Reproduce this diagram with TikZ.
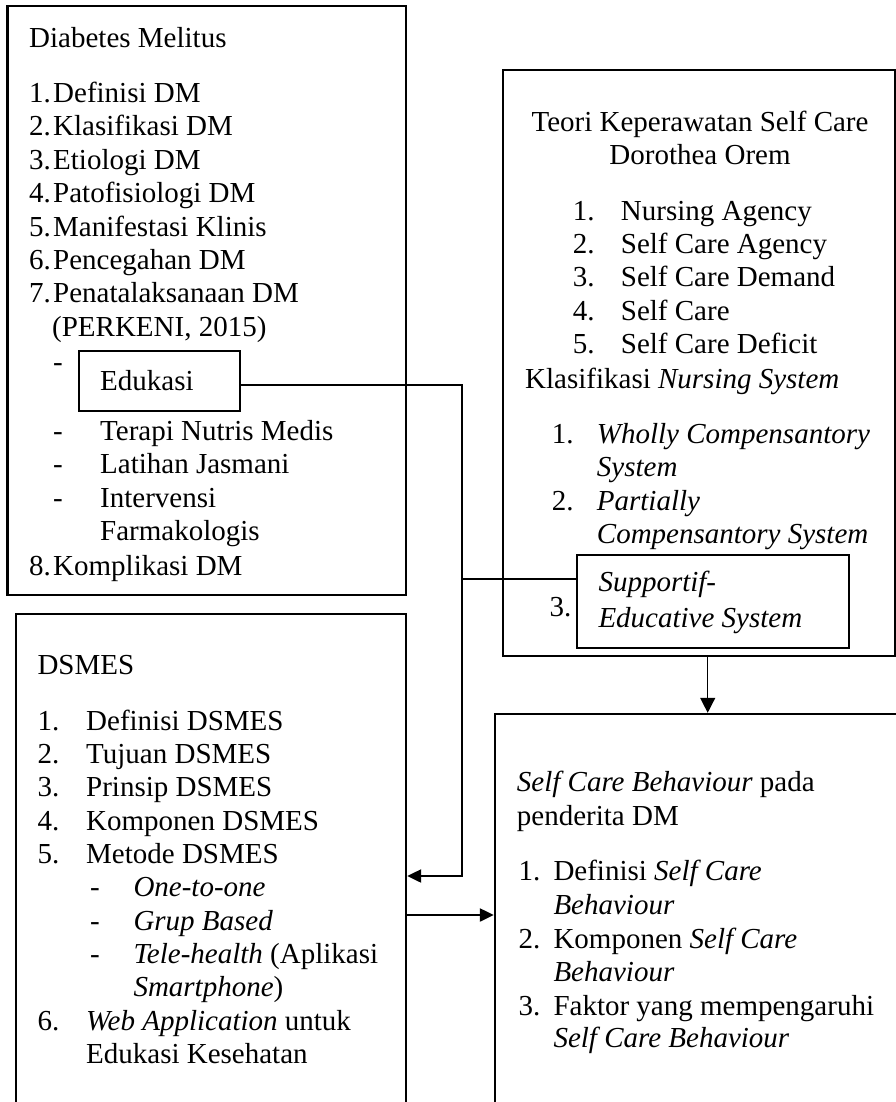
\documentclass[tikz,border=0pt]{standalone}
\usepackage{fontspec}
\setmainfont{Liberation Serif}
\usetikzlibrary{arrows.meta,calc}
\begin{document}
\begin{tikzpicture}[x=1pt,y=-1pt,
  txt/.style={anchor=base west,inner sep=0pt,font=\fontsize{29}{33}\selectfont},
  ctxt/.style={anchor=base,inner sep=0pt,font=\fontsize{29}{33}\selectfont},
  boxst/.style={draw,line width=2.4pt,inner sep=0pt,rectangle},
  conn/.style={line width=2.3pt},
  arr/.style={line width=2.3pt,-{Triangle[length=14pt,width=13pt]}},
  thinarr/.style={line width=1.4pt,-{Triangle[length=15pt,width=15pt]}}]
\useasboundingbox (0,0) rectangle (896,1102);
\clip (0,0) rectangle (896,1102);
\fill[white] (0,0) rectangle (896,1102);

% boxes
\node[boxst,minimum width=398.5pt,minimum height=589pt] (dm) at (206.75,300.5) {};
\node[boxst,minimum width=161pt,minimum height=60pt] (edu) at (159.5,381) {};
\node[boxst,minimum width=392pt,minimum height=586pt] (teori) at (699,363) {};
\node[boxst,minimum width=272pt,minimum height=93pt] (sup) at (713,601.5) {};
\node[boxst,minimum width=390pt,minimum height=516pt] (dsmes) at (211,872) {};
\node[boxst,minimum width=435pt,minimum height=416pt] (scb) at (712.5,922) {};

% Diabetes Melitus box text
\node[txt] (dmt) at (29,47.7) {Diabetes Melitus};
\node[txt] (dn1) at (29,102.7) {1.};
\node[txt] (dl1) at (53,102.7) {Definisi DM};
\node[txt] (dn2) at (29,136) {2.};
\node[txt] (dl2) at (53,136) {Klasifikasi DM};
\node[txt] (dn3) at (29,169.3) {3.};
\node[txt] (dl3) at (53,169.3) {Etiologi DM};
\node[txt] (dn4) at (29,202.7) {4.};
\node[txt] (dl4) at (53,202.7) {Patofisiologi DM};
\node[txt] (dn5) at (29,236) {5.};
\node[txt] (dl5) at (53,236) {Manifestasi Klinis};
\node[txt] (dn6) at (29,269.3) {6.};
\node[txt] (dl6) at (53,269.3) {Pencegahan DM};
\node[txt] (dn7) at (29,302.7) {7.};
\node[txt] (dl7) at (53,302.7) {Penatalaksanaan DM};
\node[txt] (dl7b) at (52,336) {(PERKENI, 2015)};
\node[txt] (dd1) at (53,371) {-};
\node[txt] (edut) at (100,390) {Edukasi};
\node[txt] (dd2) at (53,440) {-};
\node[txt] (ds2) at (100,440) {Terapi Nutris Medis};
\node[txt] (dd3) at (53,473.5) {-};
\node[txt] (ds3) at (100,473.5) {Latihan Jasmani};
\node[txt] (dd4) at (53,507) {-};
\node[txt] (ds4) at (100,507) {Intervensi};
\node[txt] (ds4b) at (100,540.5) {Farmakologis};
\node[txt] (dn8) at (29,575.7) {8.};
\node[txt] (dl8) at (53,575.7) {Komplikasi DM};

% Teori box text
\node[ctxt] (tt1) at (700,131.7) {Teori Keperawatan Self Care};
\node[ctxt] (tt2) at (700,165) {Dorothea Orem};
\node[txt] (tn1) at (572.7,220) {1.};
\node[txt] (tl1) at (620.7,220) {Nursing Agency};
\node[txt] (tn2) at (572.7,253.3) {2.};
\node[txt] (tl2) at (620.7,253.3) {Self Care Agency};
\node[txt] (tn3) at (572.7,286.7) {3.};
\node[txt] (tl3) at (620.7,286.7) {Self Care Demand};
\node[txt] (tn4) at (572.7,320) {4.};
\node[txt] (tl4) at (620.7,320) {Self Care};
\node[txt] (tn5) at (572.7,353.3) {5.};
\node[txt] (tl5) at (620.7,353.3) {Self Care Deficit};
\node[txt] (kl) at (525,388.3) {Klasifikasi \textit{Nursing System}};
\node[txt] (kn1) at (551.7,443.3) {1.};
\node[txt] (kl1) at (596.7,443.3) {\textit{Wholly Compensantory}};
\node[txt] (kl1b) at (596.7,476.7) {\textit{System}};
\node[txt] (kn2) at (551.7,510) {2.};
\node[txt] (kl2) at (596.7,510) {\textit{Partially}};
\node[txt] (kl2b) at (596.7,543.3) {\textit{Compensantory System}};
\node[txt] (kn3) at (549.3,616) {3.};
\node[txt] (kl3) at (598.3,591.7) {\textit{Supportif-}};
\node[txt] (kl3b) at (598.3,627.3) {\textit{Educative System}};

% DSMES box text
\node[txt] (dst) at (37.3,674) {DSMES};
\node[txt] (sn1) at (37.3,730) {1.};
\node[txt] (sl1) at (86,730) {Definisi DSMES};
\node[txt] (sn2) at (37.3,763.3) {2.};
\node[txt] (sl2) at (86,763.3) {Tujuan DSMES};
\node[txt] (sn3) at (37.3,796.7) {3.};
\node[txt] (sl3) at (86,796.7) {Prinsip DSMES};
\node[txt] (sn4) at (37.3,830) {4.};
\node[txt] (sl4) at (86,830) {Komponen DSMES};
\node[txt] (sn5) at (37.3,863.3) {5.};
\node[txt] (sl5) at (86,863.3) {Metode DSMES};
\node[txt] (sd1) at (90,896.7) {-};
\node[txt] (ss1) at (133.3,896.7) {\textit{One-to-one}};
\node[txt] (sd2) at (90,930) {-};
\node[txt] (ss2) at (133.3,930) {\textit{Grup Based}};
\node[txt] (sd3) at (90,963.3) {-};
\node[txt] (ss3) at (133.3,963.3) {\textit{Tele-health} (Aplikasi};
\node[txt] (ss3b) at (133.3,996.7) {\textit{Smartphone})};
\node[txt] (sn6) at (37.3,1030) {6.};
\node[txt] (sl6) at (86,1030) {\textit{Web Application} untuk};
\node[txt] (sl6b) at (86,1063.3) {Edukasi Kesehatan};

% Self Care Behaviour box text
\node[txt] (bt1) at (516.7,791) {\textit{Self Care Behaviour} pada};
\node[txt] (bt2) at (516.7,825) {penderita DM};
\node[txt] (bn1) at (518.3,880) {1.};
\node[txt] (bl1) at (553.3,880) {Definisi \textit{Self Care}};
\node[txt] (bl1b) at (553.3,914) {\textit{Behaviour}};
\node[txt] (bn2) at (518.3,948) {2.};
\node[txt] (bl2) at (553.3,948) {Komponen \textit{Self Care}};
\node[txt] (bl2b) at (553.3,981.5) {\textit{Behaviour}};
\node[txt] (bn3) at (518.3,1015) {3.};
\node[txt] (bl3) at (553.3,1015) {Faktor yang mempengaruhi};
\node[txt] (bl3b) at (553.3,1047) {\textit{Self Care Behaviour}};

% connectors
\coordinate (j1) at (461.7,385);
\coordinate (j2) at (461.7,876);
\coordinate (j3) at (461.7,579);
\coordinate (a1) at (707.7,656);
\coordinate (a2) at (406,915);
\draw[arr] ($(edu.east)+(0,4)$) -- (j1) -- (j2) -- (j2 -| dsmes.east);
\draw[conn] ($(sup.west)+(0,-22.5)$) -- (j3);
\draw[thinarr] (teori.south -| a1) -- (scb.north -| a1);
\draw[arr] (dsmes.east |- a2) -- (scb.west |- a2);
\end{tikzpicture}
\end{document}
